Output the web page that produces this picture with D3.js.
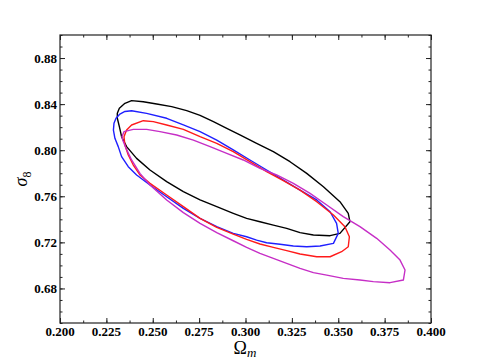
<!DOCTYPE html>
<html>
<head>
<meta charset="utf-8">
<script src="https://cdn.jsdelivr.net/npm/d3@7"></script>
<style>
body { margin: 0; background: #fff; }
</style>
</head>
<body>
<script>
var w = 480;
var h = 360;

// plot box
var lp = 60, rp = 49, up = 35, bp = 37;

// axis ranges and ticks
var x_domain = [0.2, 0.4];
var y_domain = [0.65, 0.9];
var x_ticks = [0.200, 0.225, 0.250, 0.275, 0.300, 0.325, 0.350, 0.375, 0.400];
var y_ticks = [0.68, 0.72, 0.76, 0.80, 0.84, 0.88];

// contours, [Omega_m, sigma_8]
var black_contour = [[0.2309,0.8320],[0.2320,0.8364],[0.2350,0.8407],[0.2386,0.8430],[0.2449,0.8421],[0.2521,0.8401],[0.2602,0.8378],[0.2683,0.8343],[0.2755,0.8303],[0.2827,0.8248],[0.2899,0.8190],[0.2970,0.8132],[0.3060,0.8060],[0.3150,0.7987],[0.3240,0.7900],[0.3330,0.7799],[0.3420,0.7683],[0.3509,0.7553],[0.3554,0.7452],[0.3563,0.7379],[0.3509,0.7278],[0.3456,0.7258],[0.3366,0.7264],[0.3294,0.7284],[0.3222,0.7322],[0.3150,0.7350],[0.3078,0.7379],[0.3006,0.7408],[0.2934,0.7452],[0.2845,0.7510],[0.2755,0.7568],[0.2665,0.7640],[0.2575,0.7727],[0.2485,0.7828],[0.2413,0.7929],[0.2359,0.8031],[0.2332,0.8117],[0.2320,0.8204],[0.2309,0.8277]];
var blue_contour = [[0.2291,0.8233],[0.2302,0.8277],[0.2323,0.8314],[0.2350,0.8336],[0.2386,0.8343],[0.2467,0.8320],[0.2575,0.8277],[0.2665,0.8219],[0.2755,0.8161],[0.2845,0.8088],[0.2934,0.8002],[0.3024,0.7915],[0.3114,0.7828],[0.3204,0.7741],[0.3294,0.7654],[0.3384,0.7568],[0.3456,0.7466],[0.3491,0.7365],[0.3500,0.7278],[0.3474,0.7191],[0.3402,0.7168],[0.3330,0.7162],[0.3258,0.7168],[0.3186,0.7183],[0.3114,0.7197],[0.3060,0.7220],[0.3006,0.7249],[0.2934,0.7278],[0.2845,0.7336],[0.2755,0.7408],[0.2665,0.7495],[0.2575,0.7596],[0.2485,0.7698],[0.2413,0.7785],[0.2368,0.7857],[0.2332,0.7944],[0.2314,0.8031],[0.2296,0.8103],[0.2288,0.8175]];
var red_contour = [[0.2345,0.8117],[0.2359,0.8175],[0.2386,0.8219],[0.2449,0.8256],[0.2503,0.8248],[0.2575,0.8219],[0.2665,0.8181],[0.2755,0.8117],[0.2845,0.8060],[0.2934,0.7987],[0.3024,0.7900],[0.3114,0.7814],[0.3204,0.7735],[0.3294,0.7654],[0.3384,0.7553],[0.3474,0.7437],[0.3536,0.7336],[0.3560,0.7249],[0.3554,0.7162],[0.3518,0.7119],[0.3456,0.7075],[0.3384,0.7075],[0.3294,0.7099],[0.3222,0.7128],[0.3150,0.7157],[0.3078,0.7186],[0.3006,0.7226],[0.2934,0.7272],[0.2845,0.7330],[0.2755,0.7408],[0.2665,0.7510],[0.2575,0.7611],[0.2485,0.7712],[0.2431,0.7785],[0.2395,0.7871],[0.2368,0.7958],[0.2350,0.8045]];
var magenta_contour = [[0.2334,0.8117],[0.2345,0.8161],[0.2395,0.8181],[0.2467,0.8181],[0.2539,0.8161],[0.2629,0.8132],[0.2719,0.8088],[0.2809,0.8031],[0.2899,0.7973],[0.2988,0.7915],[0.3078,0.7842],[0.3168,0.7785],[0.3258,0.7712],[0.3348,0.7625],[0.3438,0.7524],[0.3527,0.7423],[0.3617,0.7336],[0.3707,0.7235],[0.3779,0.7133],[0.3833,0.7046],[0.3860,0.6960],[0.3851,0.6873],[0.3779,0.6850],[0.3689,0.6859],[0.3617,0.6873],[0.3527,0.6887],[0.3438,0.6916],[0.3366,0.6937],[0.3294,0.6974],[0.3222,0.7018],[0.3150,0.7061],[0.3078,0.7104],[0.3006,0.7157],[0.2934,0.7214],[0.2845,0.7284],[0.2755,0.7365],[0.2665,0.7458],[0.2575,0.7568],[0.2485,0.7698],[0.2431,0.7799],[0.2386,0.7915],[0.2356,0.8016],[0.2338,0.8088]];

var contours = [
    {pts: black_contour, color: "#000000"},
    {pts: blue_contour, color: "#1f1fff"},
    {pts: red_contour, color: "#ff1a1a"},
    {pts: magenta_contour, color: "#c62ec6"}
];

var svg = d3.select("body").append("svg")
            .attr("width", w)
            .attr("height", h);

var x = d3.scaleLinear().domain(x_domain).range([lp, w - rp]);
var y = d3.scaleLinear().domain(y_domain).range([h - bp, up]);

var x_minor = d3.range(0, 17).map(function(i){ return 0.2 + i*0.0125; });
var y_minor = d3.range(0, 26).map(function(i){ return 0.65 + i*0.01; });

// contours
var line = d3.line()
             .x(function(d){ return x(d[0]); })
             .y(function(d){ return y(d[1]); })
             .curve(d3.curveLinearClosed);

svg.append("g").attr("id", "contours")
   .selectAll("path")
   .data(contours)
   .enter()
   .append("path")
   .attr("d", function(d){ return line(d.pts); })
   .attr("fill", "none")
   .attr("stroke", function(d){ return d.color; })
   .attr("stroke-width", 1.4)
   .attr("stroke-linejoin", "round");

// axes, ticks inward on all sides
function styleAxis(g) {
    g.select(".domain").remove();
    g.selectAll("line").attr("stroke", "#222").attr("stroke-width", 1);
}

var tickFont = "'Liberation Serif', 'DejaVu Serif', serif";

var xb = svg.append("g").attr("transform", "translate(0," + (h - bp) + ")")
            .call(d3.axisTop(x).tickValues(x_ticks).tickSize(5).tickFormat(""));
styleAxis(xb);
svg.append("g").attr("transform", "translate(0," + (h - bp) + ")")
   .call(d3.axisTop(x).tickValues(x_minor).tickSize(2.5).tickFormat("")).call(styleAxis);
var xt = svg.append("g").attr("transform", "translate(0," + up + ")")
            .call(d3.axisBottom(x).tickValues(x_minor).tickSize(2.5).tickFormat("")).call(styleAxis);
svg.append("g").attr("transform", "translate(0," + up + ")")
   .call(d3.axisBottom(x).tickValues(x_ticks).tickSize(5).tickFormat("")).call(styleAxis);

svg.append("g").attr("transform", "translate(" + lp + ",0)")
   .call(d3.axisRight(y).tickValues(y_ticks).tickSize(5).tickFormat("")).call(styleAxis);
svg.append("g").attr("transform", "translate(" + lp + ",0)")
   .call(d3.axisRight(y).tickValues(y_minor).tickSize(2.5).tickFormat("")).call(styleAxis);
svg.append("g").attr("transform", "translate(" + (w - rp) + ",0)")
   .call(d3.axisLeft(y).tickValues(y_ticks).tickSize(5).tickFormat("")).call(styleAxis);
svg.append("g").attr("transform", "translate(" + (w - rp) + ",0)")
   .call(d3.axisLeft(y).tickValues(y_minor).tickSize(2.5).tickFormat("")).call(styleAxis);

// tick labels
svg.append("g").selectAll("text")
   .data(x_ticks)
   .enter()
   .append("text")
   .attr("x", function(d){ return x(d); })
   .attr("y", h - bp + 13)
   .attr("text-anchor", "middle")
   .attr("font-family", tickFont)
   .attr("font-weight", "bold")
   .attr("font-size", 13)
   .text(function(d){ return d3.format(".3f")(d); });

svg.append("g").selectAll("text")
   .data(y_ticks)
   .enter()
   .append("text")
   .attr("x", lp - 3)
   .attr("y", function(d){ return y(d) + 4.5; })
   .attr("text-anchor", "end")
   .attr("font-family", tickFont)
   .attr("font-weight", "bold")
   .attr("font-size", 13)
   .text(function(d){ return d3.format(".2f")(d); });

// frame
svg.append("rect")
   .attr("x", lp)
   .attr("y", up)
   .attr("width", w - lp - rp)
   .attr("height", h - up - bp)
   .attr("fill", "none")
   .attr("stroke", "#222")
   .attr("stroke-width", 1.2);

// axis labels
var xl = svg.append("text")
            .attr("x", 245)
            .attr("y", 354)
            .attr("text-anchor", "middle")
            .attr("font-family", tickFont)
            .attr("font-size", 18);
xl.append("tspan").text("\u03A9");
xl.append("tspan").attr("font-style", "italic").attr("font-size", 13).attr("dy", 3).text("m");

var yl = svg.append("text")
            .attr("transform", "translate(27," + (up + (h - up - bp)/2) + ") rotate(-90)")
            .attr("text-anchor", "middle")
            .attr("font-family", tickFont)
            .attr("font-size", 18);
yl.append("tspan").attr("font-style", "italic").text("\u03C3");
yl.append("tspan").attr("font-size", 12).attr("dy", 4).text("8");
</script>
</body>
</html>
